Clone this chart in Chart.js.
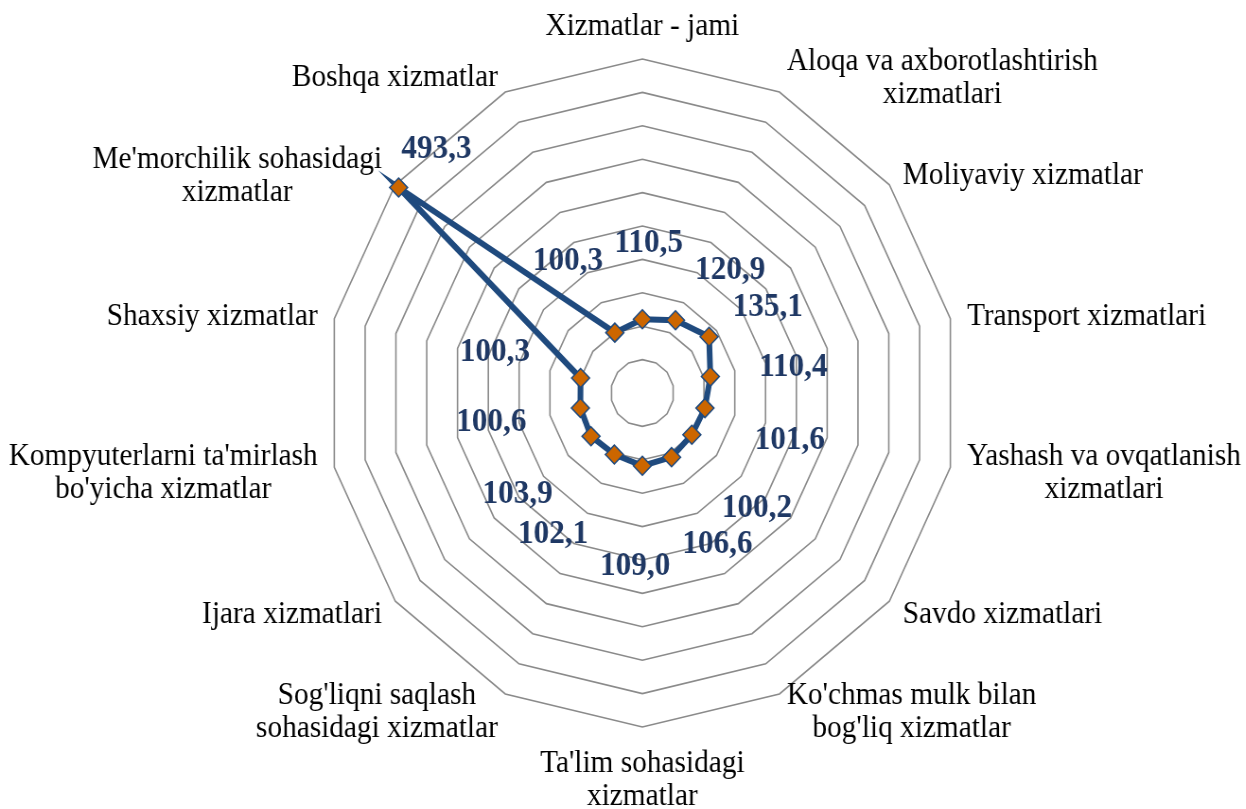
<!DOCTYPE html>
<html>
<head>
<meta charset="utf-8">
<script src="https://cdn.jsdelivr.net/npm/chart.js@4.4.1/dist/chart.umd.min.js"></script>
<style>
  html, body { margin: 0; padding: 0; overflow: hidden; background: #ffffff; width: 1246px; height: 809px; }
  #wrap { position: absolute; left: 0; top: 0; width: 1317px; height: 809px; transform: scaleX(0.946); transform-origin: 0 0; }
</style>
</head>
<body>
<div id="wrap"><canvas id="chart" width="1317" height="809"></canvas></div>
<script>
// ---- data ----
const categories = [
  ["Xizmatlar - jami"],
  ["Aloqa va axborotlashtirish", "xizmatlari"],
  ["Moliyaviy xizmatlar"],
  ["Transport xizmatlari"],
  ["Yashash va ovqatlanish", "xizmatlari"],
  ["Savdo xizmatlari"],
  ["Ko'chmas mulk bilan", "bog'liq xizmatlar"],
  ["Ta'lim sohasidagi", "xizmatlar"],
  ["Sog'liqni saqlash", "sohasidagi xizmatlar"],
  ["Ijara xizmatlari"],
  ["Kompyuterlarni ta'mirlash", "bo'yicha xizmatlar"],
  ["Shaxsiy xizmatlar"],
  ["Me'morchilik sohasidagi", "xizmatlar"],
  ["Boshqa xizmatlar"]
];
const values = [110.5, 120.9, 135.1, 110.4, 101.6, 100.2, 106.6, 109.0, 102.1, 103.9, 100.6, 100.3, 493.3, 100.3];
const axisMin = 0;
const axisMax = 500;
const axisStep = 50;

// ---- styles ----
const LABEL_FONT = '31px "Liberation Serif", "Times New Roman", serif';
const VALUE_FONT = 'bold 33px "Liberation Serif", "Times New Roman", serif';
const LINE_H = 33;
const BASE_OFF = 27;
const LABEL_PAD = 18;
const VALUE_RING = 0.485;                // fraction of radius where value labels sit
const VALUE_TURN = 3 * Math.PI / 180;    // small clockwise turn of value labels
const VALUE_DROP = 12;                   // labels near top/bottom sit slightly low
const VALUE_H = 24;
const VALUE_GAP = 12;

function fmt(v) { return v.toFixed(1).replace('.', ','); }

const labelPlugin = {
  id: 'customLabels',
  afterDatasetsDraw(chart) {
    const scale = chart.scales.r;
    const ctx = chart.ctx;
    const R = scale.drawingArea;
    ctx.save();
    // category labels
    ctx.font = LABEL_FONT;
    ctx.fillStyle = '#000000';
    ctx.textAlign = 'center';
    ctx.textBaseline = 'alphabetic';
    categories.forEach((lines, i) => {
      const p = scale.getPointPosition(i, R + LABEL_PAD);
      const a = scale.getIndexAngle(i);
      const s = Math.sin(a), c = Math.cos(a);
      const w = Math.max(...lines.map(t => ctx.measureText(t).width));
      const h = lines.length * LINE_H;
      let cx, top;
      if (Math.abs(s) < 0.05) {
        cx = p.x;
        top = c > 0 ? p.y - h : p.y;
      } else {
        cx = s > 0 ? p.x + w / 2 : p.x - w / 2;
        top = p.y - h / 2;
      }
      lines.forEach((t, j) => ctx.fillText(t, cx, top + j * LINE_H + BASE_OFF));
    });

    // value labels
    ctx.font = VALUE_FONT;
    ctx.fillStyle = '#1F3864';
    ctx.textBaseline = 'middle';
    const ringDist = R * VALUE_RING;
    const items = values.map((v, i) => ({
      i, v, text: fmt(v),
      w: ctx.measureText(fmt(v)).width,
      out: scale.getDistanceFromCenterForValue(v) > ringDist,
      turn: VALUE_TURN
    }));
    const pos = it => {
      const p = scale.getPointPosition(it.i, ringDist, it.turn);
      const a = scale.getIndexAngle(it.i) + it.turn;
      return { x: p.x, y: p.y + VALUE_DROP * Math.abs(Math.cos(a)) };
    };
    // push neighbouring labels apart along the ring until they no longer overlap
    const ring = items.filter(it => !it.out);
    const step = 0.3 * Math.PI / 180;
    for (let iter = 0; iter < 400; iter++) {
      let moved = false;
      for (let k = 0; k < ring.length; k++) {
        const a = ring[k], b = ring[(k + 1) % ring.length];
        const pa = pos(a), pb = pos(b);
        if (Math.abs(pa.x - pb.x) < (a.w + b.w) / 2 + VALUE_GAP &&
            Math.abs(pa.y - pb.y) < VALUE_H + VALUE_GAP) {
          a.turn -= step; b.turn += step; moved = true;
        }
      }
      if (!moved) break;
    }
    items.forEach(it => {
      let x, y;
      if (it.out) {
        const p = scale.getPointPosition(it.i, scale.getDistanceFromCenterForValue(it.v));
        x = p.x + 40; y = p.y - 38;
      } else {
        const p = pos(it);
        x = p.x; y = p.y;
      }
      ctx.fillText(it.text, x, y);
    });
    ctx.restore();
  }
};

function draw() {
  new Chart(document.getElementById('chart'), {
    type: 'radar',
    data: {
      labels: categories,
      datasets: [{
        data: values,
        borderColor: '#1F4A7E',
        borderWidth: 6,
        fill: false,
        tension: 0,
        pointStyle: 'rectRot',
        pointRadius: 9.5,
        pointBackgroundColor: '#CC6600',
        pointBorderColor: '#1F4A7E',
        pointBorderWidth: 1.5
      }]
    },
    options: {
      responsive: false,
      animation: false,
      devicePixelRatio: 1,
      layout: { padding: { left: 41, right: 0, top: 59, bottom: 82 } },
      plugins: { legend: { display: false }, tooltip: { enabled: false } },
      scales: {
        r: {
          min: axisMin,
          max: axisMax,
          ticks: { display: false, stepSize: axisStep },
          grid: { color: '#8a8a8a', lineWidth: 1.6, circular: false },
          angleLines: { display: false },
          pointLabels: { display: false }
        }
      }
    },
    plugins: [labelPlugin]
  });
}

Promise.all([
  document.fonts.load(LABEL_FONT),
  document.fonts.load(VALUE_FONT)
]).then(draw, draw);
</script>
</body>
</html>
